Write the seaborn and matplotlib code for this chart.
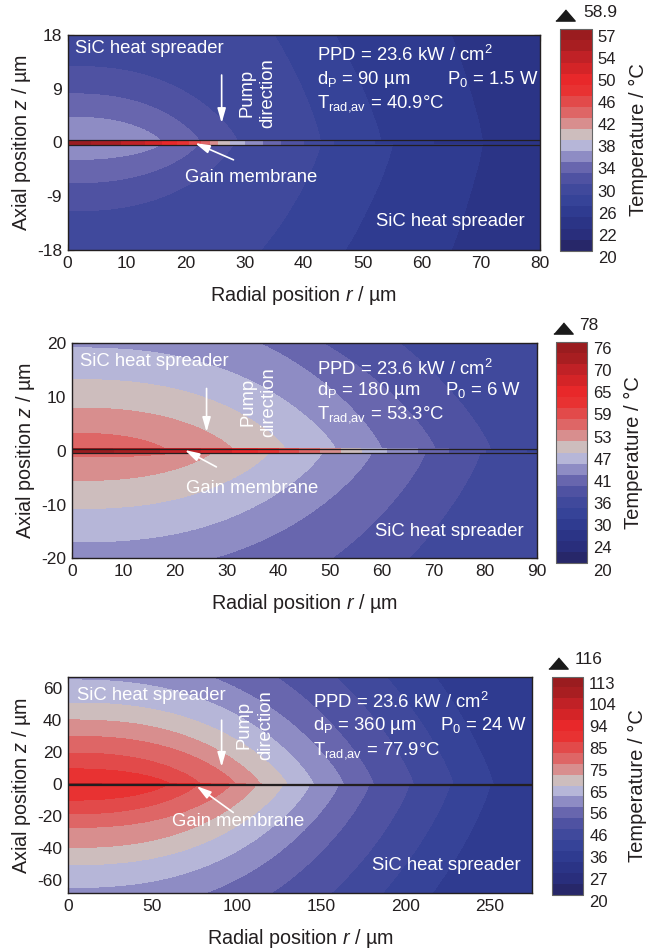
import numpy as np
import matplotlib
matplotlib.use("Agg")
import matplotlib.pyplot as plt
from matplotlib.colors import ListedColormap
from matplotlib.ticker import MultipleLocator
import seaborn as sns

# ---------------------------------------------------------------- data
T_AMBIENT = 20.0
N_BANDS = 20
MEM_HALF = 0.35          # half thickness of the gain membrane, µm

# band colours, coldest to hottest
BAND_COLORS = ["#272769", "#292e7c", "#2b3486", "#2f3b90", "#364398",
               "#40499c", "#4f52a2", "#6866ae", "#8e8cc4", "#b6b6d8",
               "#cdbdbd", "#d88e8e", "#de6666", "#e24a4a", "#e83232",
               "#e8282a", "#d42427", "#c02126", "#a81e21", "#9a1c1f"]

# isotherms: radius where each band edge meets the membrane (tip) and its
# axial extent on the axis (top); band index of the innermost region

# pump diameter 90 µm
P1_TMAX = 58.9
P1_CBAR = ["20", "22", "26", "30", "34", "38", "42", "46", "50", "54", "57"]
P1_UP_BAND = 9
P1_UP_TIP = [15.7, 22.2, 28.7, 42.8, 53.0, 70.2]
P1_UP_TOP = [3.9, 7.8, 12.4, 38.0, 45.0, 75.0]
P1_LO_BAND = 9
P1_LO_TIP = [15.7, 22.0, 28.0, 42.8, 55.0, 70.2]
P1_LO_TOP = [2.5, 6.4, 11.1, 32.0, 45.0, 75.0]
P1_MEM_BAND = 20
P1_MEM_TIP = [4, 9, 13, 16, 18.5, 20.5, 22.5, 24, 25.5, 27.5, 30, 33, 36,
              40, 45, 52, 62]
P1_INFO = ["PPD = 23.6 kW / cm$^2$", "d$_\\mathrm{P}$ = 90 µm",
           "P$_0$ = 1.5 W", "T$_\\mathrm{rad{,}av}$ = 40.9°C"]

# pump diameter 180 µm
P2_TMAX = 78
P2_CBAR = ["20", "24", "30", "36", "41", "47", "53", "59", "65", "70", "76"]
P2_UP_BAND = 13
P2_UP_TIP = [18, 31, 41.3, 51, 60, 70.3, 81]
P2_UP_TOP = [2.9, 7.6, 12.9, 18.8, 26, 30, 37.8]
P2_LO_BAND = 13
P2_LO_TIP = [20, 27, 38, 48.4, 58, 68.4, 79]
P2_LO_TOP = [0.8, 5.2, 10.4, 16.6, 22.5, 33, 44]
P2_MEM_BAND = 20
P2_MEM_TIP = [8, 17, 25, 31, 36, 40, 44, 48, 52, 56, 61, 67, 73, 80, 88]
P2_INFO = ["PPD = 23.6 kW / cm$^2$", "d$_\\mathrm{P}$ = 180 µm",
           "P$_0$ = 6 W", "T$_\\mathrm{rad{,}av}$ = 53.3°C"]

# pump diameter 360 µm
P3_TMAX = 116
P3_CBAR = ["20", "27", "36", "46", "56", "65", "75", "85", "94", "104", "113"]
P3_UP_BAND = 15
P3_UP_TIP = [60.6, 78.3, 99, 113.8, 129.6, 145.4, 163, 180.8, 204.5, 228, 251.7]
P3_UP_TOP = [9.4, 19.3, 29.8, 40, 50.6, 65, 80, 100, 125, 150, 180]
P3_LO_BAND = 15
P3_LO_TIP = [58, 76, 96, 111, 127, 143, 160, 178, 202, 226, 250]
P3_LO_TOP = [9.4, 18, 26.5, 39, 49.8, 64, 80, 100, 125, 150, 180]
P3_MEM_BAND = 20
P3_MEM_TIP = [20, 40, 55, 65, 75, 85, 95, 105, 115, 128, 143, 160, 180,
              204, 228, 252]
P3_INFO = ["PPD = 23.6 kW / cm$^2$", "d$_\\mathrm{P}$ = 360 µm",
           "P$_0$ = 24 W", "T$_\\mathrm{rad{,}av}$ = 77.9°C"]

# ---------------------------------------------------------------- style
sns.set_style("ticks")
INK = "#231f20"
plt.rcParams.update({
    "font.family": ["Liberation Sans", "DejaVu Sans"],
    "mathtext.fontset": "custom",
    "mathtext.rm": "Liberation Sans",
    "mathtext.it": "Liberation Sans:italic",
    "mathtext.bf": "Liberation Sans:bold",
    "axes.unicode_minus": False,
    "font.size": 12.5,
    "text.color": INK,
    "axes.labelcolor": INK,
    "axes.edgecolor": INK,
    "axes.linewidth": 1.0,
    "xtick.color": INK,
    "ytick.color": INK,
    "xtick.direction": "in",
    "ytick.direction": "in",
    "xtick.top": True,
    "ytick.right": True,
    "xtick.major.size": 4.5,
    "ytick.major.size": 4.5,
    "xtick.minor.size": 3,
    "ytick.minor.size": 3,
    "xtick.minor.visible": True,
    "ytick.minor.visible": True,
})
cmap = ListedColormap(sns.color_palette(BAND_COLORS))
TRIANGLE = [(-1.0, -0.58), (1.0, -0.58), (0.0, 0.58)]

panels = [
    dict(tmax=P1_TMAX, cbar=P1_CBAR, up=(P1_UP_BAND, P1_UP_TIP, P1_UP_TOP),
         lo=(P1_LO_BAND, P1_LO_TIP, P1_LO_TOP), mem=(P1_MEM_BAND, P1_MEM_TIP),
         info=P1_INFO, xlim=(0, 80), ylim=(-18, 18), xmaj=10, xmin=5,
         ymaj=9, ymin=4.5, ax=[67.5, 35, 540, 250], cax=[560, 29.3, 591.7, 250.7],
         tlabel=2.46, tri=(0.16, 1.065, 1.074),
         info_xy=(42.3, [14.7, 10.6, 6.6]), p0_x=64.2,
         sic_top=(1.3, 15.8), sic_bot=(52.3, -13.3),
         pump_txt=(32.1, 8.3), pump_arrow=(26.1, 11.3, 3.25),
         gain_txt=(31.1, -5.9), gain_arrow=(28.1, -2.9, 21.6, -0.1)),
    dict(tmax=P2_TMAX, cbar=P2_CBAR, up=(P2_UP_BAND, P2_UP_TIP, P2_UP_TOP),
         lo=(P2_LO_BAND, P2_LO_TIP, P2_LO_TOP), mem=(P2_MEM_BAND, P2_MEM_TIP),
         info=P2_INFO, xlim=(0, 90), ylim=(-20, 20), xmaj=10, xmin=5,
         ymaj=10, ymin=5, ax=[71.7, 343.3, 536.7, 558.3], cax=[556, 341.7, 587.3, 563.3],
         tlabel=2.49, tri=(0.22, 1.063, 1.075),
         info_xy=(47.4, [15.3, 11.3, 6.7]), p0_x=72.2,
         sic_top=(1.6, 16.7), sic_bot=(58.7, -15.0),
         pump_txt=(36.2, 9.1), pump_arrow=(26.1, 11.6, 3.5),
         gain_txt=(35.0, -7.1), gain_arrow=(28.0, -3.0, 21.9, 0.15)),
    dict(tmax=P3_TMAX, cbar=P3_CBAR, up=(P3_UP_BAND, P3_UP_TIP, P3_UP_TOP),
         lo=(P3_LO_BAND, P3_LO_TIP, P3_LO_TOP), mem=(P3_MEM_BAND, P3_MEM_TIP),
         info=P3_INFO, xlim=(0, 275), ylim=(-68, 67), xmaj=50, xmin=25,
         ymaj=20, ymin=10, ax=[67.7, 677.3, 532.3, 893.3], cax=[552.3, 676.5, 583.3, 894.5],
         tlabel=2.76, tri=(0.17, 1.064, 1.080),
         info_xy=(145.3, [51.6, 37.0, 21.4]), p0_x=220.3,
         sic_top=(5.3, 55.4), sic_bot=(179.9, -50.9),
         pump_txt=(110.8, 37.0), pump_arrow=(91.1, 40.2, 11.0),
         gain_txt=(100.6, -23.4), gain_arrow=(98.0, -17.5, 76.3, -1.0)),
]

SHAPE_P = 2.5   # radial exponent of the isotherm outline
SHAPE_Q = 1.2   # axial exponent of the isotherm outline


def inside_count(R, H, tips, tops):
    n = np.zeros(R.shape)
    for a, b in zip(tips, tops):
        n += ((R / a) ** SHAPE_P + (H / b) ** SHAPE_Q) < 1.0
    return n


def temperature_grid(pan):
    r = np.linspace(pan["xlim"][0], pan["xlim"][1], 1400)
    z = np.linspace(pan["ylim"][0], pan["ylim"][1], 1600)
    R, Z = np.meshgrid(r, z)
    up = Z > MEM_HALF
    lo = Z < -MEM_HALF
    mid = ~(up | lo)
    band = np.empty(R.shape)
    b0, tips, tops = pan["up"]
    band[up] = b0 - len(tips) + inside_count(R[up], Z[up] - MEM_HALF, tips, tops)
    b0, tips, tops = pan["lo"]
    band[lo] = b0 - len(tips) + inside_count(R[lo], -Z[lo] - MEM_HALF, tips, tops)
    b0, tips = pan["mem"]
    band[mid] = b0 - len(tips) + sum((R[mid] < t).astype(float) for t in tips)
    dT = (pan["tmax"] - T_AMBIENT) / N_BANDS
    return R, Z, T_AMBIENT + (band - 0.5) * dT


W, H = 647, 951
fig = plt.figure(figsize=(W / 100, H / 100), dpi=100)


def frac(box):
    x0, y0, x1, y1 = box
    return [x0 / W, 1 - y1 / H, (x1 - x0) / W, (y1 - y0) / H]


white = dict(color="white", fontsize=13.3)
for pan in panels:
    ax = fig.add_axes(frac(pan["ax"]))
    cax = fig.add_axes(frac(pan["cax"]))
    R, Z, T = temperature_grid(pan)
    levels = np.linspace(T_AMBIENT, pan["tmax"], N_BANDS + 1)
    cs = ax.contourf(R, Z, T, levels=levels, cmap=cmap, antialiased=False)
    for zz in (MEM_HALF, -MEM_HALF):
        ax.axhline(zz, color=INK, lw=0.9)
    ax.set_xlim(*pan["xlim"])
    ax.set_ylim(*pan["ylim"])
    ax.xaxis.set_major_locator(MultipleLocator(pan["xmaj"]))
    ax.xaxis.set_minor_locator(MultipleLocator(pan["xmin"]))
    ax.yaxis.set_major_locator(MultipleLocator(pan["ymaj"]))
    ax.yaxis.set_minor_locator(MultipleLocator(pan["ymin"]))
    ax.set_xlabel("Radial position $r$ / µm", fontsize=14.2, labelpad=9.5)
    ax.set_ylabel("Axial position $z$ / µm", fontsize=14.2, labelpad=3)
    ax.tick_params(labelsize=12.5, pad=4)

    # annotations
    ax.text(*pan["sic_top"], "SiC heat spreader", ha="left", va="center", **white)
    ax.text(*pan["sic_bot"], "SiC heat spreader", ha="left", va="center", **white)
    ix, iys = pan["info_xy"]
    ax.text(ix, iys[0], pan["info"][0], ha="left", va="center", **white)
    ax.text(ix, iys[1], pan["info"][1], ha="left", va="center", **white)
    ax.text(pan["p0_x"], iys[1], pan["info"][2], ha="left", va="center", **white)
    ax.text(ix, iys[2], pan["info"][3], ha="left", va="center", **white)
    ax.text(*pan["pump_txt"], "Pump\ndirection", rotation=90, ha="center",
            va="center", multialignment="center", linespacing=1.3, **white)
    px, py0, py1 = pan["pump_arrow"]
    ax.annotate("", xy=(px, py1), xytext=(px, py0),
                arrowprops=dict(arrowstyle="-|>,head_length=0.7,head_width=0.2",
                                color="white", lw=1.2, shrinkA=0, shrinkB=0))
    ax.text(*pan["gain_txt"], "Gain membrane", ha="center", va="center", **white)
    gx0, gy0, gx1, gy1 = pan["gain_arrow"]
    ax.annotate("", xy=(gx1, gy1), xytext=(gx0, gy0),
                arrowprops=dict(arrowstyle="-|>,head_length=0.7,head_width=0.2",
                                color="white", lw=1.2, shrinkA=0, shrinkB=0))

    # colour bar
    cb = fig.colorbar(cs, cax=cax)
    cb.set_ticks(levels)
    cax.minorticks_off()
    cax.tick_params(which="both", direction="in", length=3, width=0.7,
                    colors="#333333", left=True, right=True,
                    labelleft=False, labelright=False)
    cb.outline.set_edgecolor("#666666")
    cb.outline.set_linewidth(0.8)
    for k, lab in enumerate(pan["cbar"]):
        cax.text(1.19, (2 * k - 0.7) / N_BANDS, lab, transform=cax.transAxes,
                 ha="left", va="center", fontsize=12)
    cax.text(pan["tlabel"], 0.5, "Temperature / °C", rotation=90,
             transform=cax.transAxes, ha="center", va="center", fontsize=14.5)
    tx, ty, tly = pan["tri"]
    cax.plot([tx], [ty], marker=TRIANGLE, ms=13.9, color="#1a1a1a",
             transform=cax.transAxes, clip_on=False)
    cax.text(0.73, tly, f"{pan['tmax']:g}", transform=cax.transAxes,
             ha="left", va="center", fontsize=12.5)

fig.savefig("out.png", dpi=100)
